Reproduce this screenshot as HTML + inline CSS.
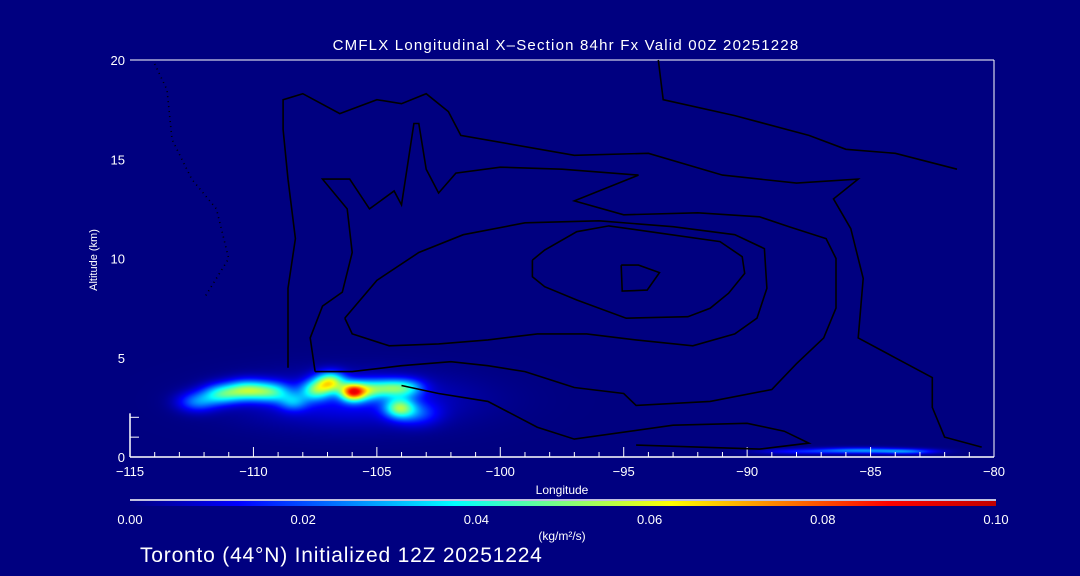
<!DOCTYPE html>
<html><head><meta charset="utf-8"><style>
html,body{margin:0;padding:0;background:#000080;}
#wrap{position:relative;width:1080px;height:576px;background:#000080;overflow:hidden;font-family:"Liberation Sans","DejaVu Sans",sans-serif;color:#fff;}
svg text{font-family:"Liberation Sans","DejaVu Sans",sans-serif;fill:#fff;}
</style></head><body>
<div id="wrap">
<canvas id="heat" width="864" height="397" style="position:absolute;left:130px;top:60px"></canvas>
<svg id="svg" width="1080" height="576" style="position:absolute;left:0;top:0">
<defs><linearGradient id="jet" x1="0" x2="1" y1="0" y2="0">
<stop offset="0" stop-color="#000080"/><stop offset="0.125" stop-color="#0000ff"/><stop offset="0.375" stop-color="#00ffff"/><stop offset="0.625" stop-color="#ffff00"/><stop offset="0.875" stop-color="#ff0000"/><stop offset="1" stop-color="#c00000"/></linearGradient></defs>
<text x="566" y="50" font-size="15" letter-spacing="1.2" text-anchor="middle">CMFLX Longitudinal X–Section 84hr  Fx Valid 00Z 20251228</text>
<text transform="translate(97,260) rotate(-90)" font-size="11" text-anchor="middle">Altitude (km)</text>
<text x="562" y="494" font-size="12" text-anchor="middle">Longitude</text>
<line x1="130" y1="500" x2="996" y2="500" stroke="#fff" stroke-width="1.5"/>
<rect x="130" y="501" width="866" height="5" fill="url(#jet)"/>
<text x="562" y="540" font-size="12" text-anchor="middle">(kg/m²/s)</text>
<text x="140" y="562" font-size="21" letter-spacing="0.8">Toronto (44°N) Initialized 12Z 20251224</text>
<g id="axes"></g><g id="contours"></g>
</svg>
</div>
<script>
const xTicks=[-115,-110,-105,-100,-95,-90,-85,-80];
const yTicks=[0,5,10,15,20];
const cbTicks=[0.00,0.02,0.04,0.06,0.08,0.10];
const cbLabels=["0.00","0.02","0.04","0.06","0.08","0.10"];
// heat blobs (summed): lon, alt, value
const blobLon=[-112.3,-111.3,-110.3,-109.3,-108.4,-107.5,-106.9,-106.0,-105.4,-104.6,-103.8,-104.1,-103.4,-106.0,-85.5,-88.0,-83.5];
const blobAlt=[2.8,3.2,3.4,3.3,2.8,3.4,3.8,3.3,3.4,3.5,3.5,2.5,2.2,2.9,0.35,0.3,0.3];
const blobVal=[0.022,0.035,0.04,0.034,0.02,0.035,0.05,0.068,0.03,0.03,0.028,0.04,0.015,0.012,0.025,0.012,0.02];
const blobSx=[0.8,0.8,0.8,0.8,0.6,0.6,0.6,0.5,0.6,0.7,0.7,0.6,0.9,4.2,1.8,1.6,1.2];
const blobSy=[0.5,0.5,0.5,0.5,0.45,0.5,0.5,0.45,0.5,0.45,0.45,0.5,0.6,1.3,0.15,0.13,0.13];
const cInner=[[-95.1,9.67],[-94.4,9.67],[-93.55,9.29],[-94.05,8.41],[-95.06,8.36],[-95.1,9.67]];
const c20=[[-98.7,9.92],[-98.2,10.43],[-96.9,11.35],[-95.6,11.64],[-93.65,11.3],[-91.1,10.85],[-90.2,10.09],[-90.1,9.25],[-90.75,8.25],[-91.5,7.49],[-92.4,7.07],[-94.9,6.99],[-96.9,7.91],[-98.2,8.58],[-98.7,9.08],[-98.7,9.92]];
const c10a=[[-106.3,7.0],[-105.0,8.9],[-103.3,10.3],[-101.5,11.2],[-99,11.8],[-96,11.9],[-93,11.6],[-90.5,11.2],[-89.3,10.5],[-89.2,8.5],[-89.6,7.0],[-90.5,6.2],[-92.2,5.6],[-94.5,5.9],[-96.5,6.2],[-98.5,6.2],[-100.5,5.9],[-102.5,5.7],[-104.5,5.6],[-106.0,6.2],[-106.3,7.0]];
const c10b=[[-107.5,4.3],[-107.7,6.0],[-107.2,7.6],[-106.4,8.3],[-106.0,10.3],[-106.2,12.5],[-107.2,14.0],[-106.1,14.0],[-105.3,12.5],[-104.3,13.4],[-104.0,12.7],[-103.5,16.8],[-103.3,16.8],[-103.0,14.5],[-102.5,13.3],[-101.8,14.3],[-100.0,14.6],[-97.5,14.5],[-94.4,14.2],[-97.0,12.9],[-95.0,12.2],[-92.0,12.3],[-89.5,12.1],[-88.3,11.6],[-86.8,11.0],[-86.4,10.0],[-86.4,7.5],[-86.9,6.0],[-88.0,4.7],[-89.0,3.4],[-91.5,2.8],[-94.5,2.6],[-95.0,3.2],[-97.0,3.5],[-99.0,4.3],[-100.5,4.6],[-102.0,4.8],[-104.0,4.6],[-106.0,4.3],[-107.5,4.3]];
const c0=[[-108.6,4.5],[-108.6,8.5],[-108.3,11.0],[-108.6,14.0],[-108.8,16.5],[-108.8,18.0],[-108.0,18.3],[-106.5,17.3],[-105.0,18.0],[-104.0,17.8],[-103.0,18.3],[-102.1,17.4],[-101.6,16.2],[-97.0,15.2],[-94.0,15.3],[-91.0,14.2],[-88.0,13.8],[-85.5,14.0],[-86.5,13.0],[-85.8,11.5],[-85.3,9.0],[-85.5,6.0],[-84.0,5.0],[-82.5,4.0],[-82.5,2.5],[-82,1.0],[-80.5,0.5]];
const c0top=[[-93.6,20],[-93.4,18.0],[-90.5,17.2],[-87.5,16.2],[-86.0,15.5],[-84.0,15.3],[-81.5,14.5]];
const cLeft=[[-114.0,19.8],[-113.5,18.5],[-113.3,16.0],[-112.5,14.0],[-111.5,12.5],[-111.0,10.0],[-112.0,8.0]];
const cLow=[[-104.0,3.6],[-102.5,3.2],[-100.5,2.8],[-98.5,1.5],[-97.0,0.9],[-93.0,1.6],[-90.0,1.7],[-88.5,1.3],[-87.5,0.7],[-89.5,0.4],[-94.5,0.6]];
const X0=130,X1=994,Y0=457,Y1=60;
const sx=v=>X0+(v+115)/35*(X1-X0);
const sy=v=>Y0-v/20*(Y0-Y1);
const cbx=v=>130+v/0.1*(996-130);
const NS="http://www.w3.org/2000/svg";
function mk(tag,attrs,parent){const e=document.createElementNS(NS,tag);for(const k in attrs)e.setAttribute(k,attrs[k]);parent.appendChild(e);return e;}
(function(){
const cv=document.getElementById('heat'),ctx=cv.getContext('2d');
const img=ctx.createImageData(cv.width,cv.height);
function jet(t){t=Math.max(0,Math.min(1,t));
 const st=[[0,0,0,128],[0.125,0,0,255],[0.375,0,255,255],[0.625,255,255,0],[0.875,255,0,0],[1,192,0,0]];
 for(let i=1;i<st.length;i++){if(t<=st[i][0]){const a=st[i-1],b=st[i],f=(t-a[0])/(b[0]-a[0]);return [a[1]+f*(b[1]-a[1]),a[2]+f*(b[2]-a[2]),a[3]+f*(b[3]-a[3])];}}
 return [192,0,0];}
for(let py=0;py<cv.height;py++){const alt=(Y0-(py+Y1))/(Y0-Y1)*20;
 for(let px=0;px<cv.width;px++){const lon=-115+(px)/(X1-X0)*35;let v=0;
  for(let i=0;i<blobLon.length;i++){const dx=(lon-blobLon[i])/blobSx[i],dy=(alt-blobAlt[i])/blobSy[i];v+=blobVal[i]*Math.exp(-(dx*dx+dy*dy));}
  const c=jet(v/0.1),k=(py*cv.width+px)*4;img.data[k]=c[0];img.data[k+1]=c[1];img.data[k+2]=c[2];img.data[k+3]=255;}}
ctx.putImageData(img,0,0);
})();
const ax=document.getElementById('axes');
let el;
el=mk('line',{x1:X0,y1:Y1,x2:X1,y2:Y1,stroke:'#fff','stroke-width':1},ax);

el=mk('line',{x1:X1,y1:Y1,x2:X1,y2:Y0,stroke:'#fff','stroke-width':1},ax);

el=mk('line',{x1:X0,y1:Y0,x2:X1,y2:Y0,stroke:'#fff','stroke-width':1.5},ax);

el=mk('line',{x1:X0,y1:Y0,x2:X0,y2:sy(2.2),stroke:'#fff','stroke-width':1.5},ax);

for(let d=-115;d<=-80;d++){const major=(d%5===0);
 el=mk('line',{x1:sx(d),y1:Y0,x2:sx(d),y2:Y0-(major?10:5),stroke:'#fff','stroke-width':1},ax);
 }
xTicks.forEach(t=>{el=mk('text',{x:sx(t),y:Y0+19,'font-size':13,'text-anchor':'middle'},ax);el.textContent=(t<0?'−':'')+Math.abs(t);
 });
yTicks.forEach(t=>{el=mk('text',{x:X0-5,y:sy(t)+5,'font-size':13,'text-anchor':'end'},ax);el.textContent=t;
 });
[1,2].forEach(t=>{el=mk('line',{x1:X0,y1:sy(t),x2:X0+9,y2:sy(t),stroke:'#fff','stroke-width':1},ax);
 });
cbTicks.forEach((t,i)=>{el=mk('text',{x:cbx(t),y:524,'font-size':13,'text-anchor':'middle'},ax);el.textContent=cbLabels[i];
 });
const cg=document.getElementById('contours');
function poly(pts,dash,name){const d=pts.map((p,i)=>(i?'L':'M')+sx(p[0]).toFixed(1)+','+sy(p[1]).toFixed(1)).join('');
 const e=mk('path',{d:d,fill:'none',stroke:'#000','stroke-width':1.6,'stroke-dasharray':dash||'none'},cg);
 }
poly(cInner,'','contour-inner');
poly(c20,'','contour-20');poly(c10a,'','contour-10a');poly(c10b,'','contour-10b');poly(c0,'','contour-0');
poly(c0top,'','contour-0-top');poly(cLeft,'1,4','contour-negative-left');poly(cLow,'','contour-low');
</script>
</body></html>
